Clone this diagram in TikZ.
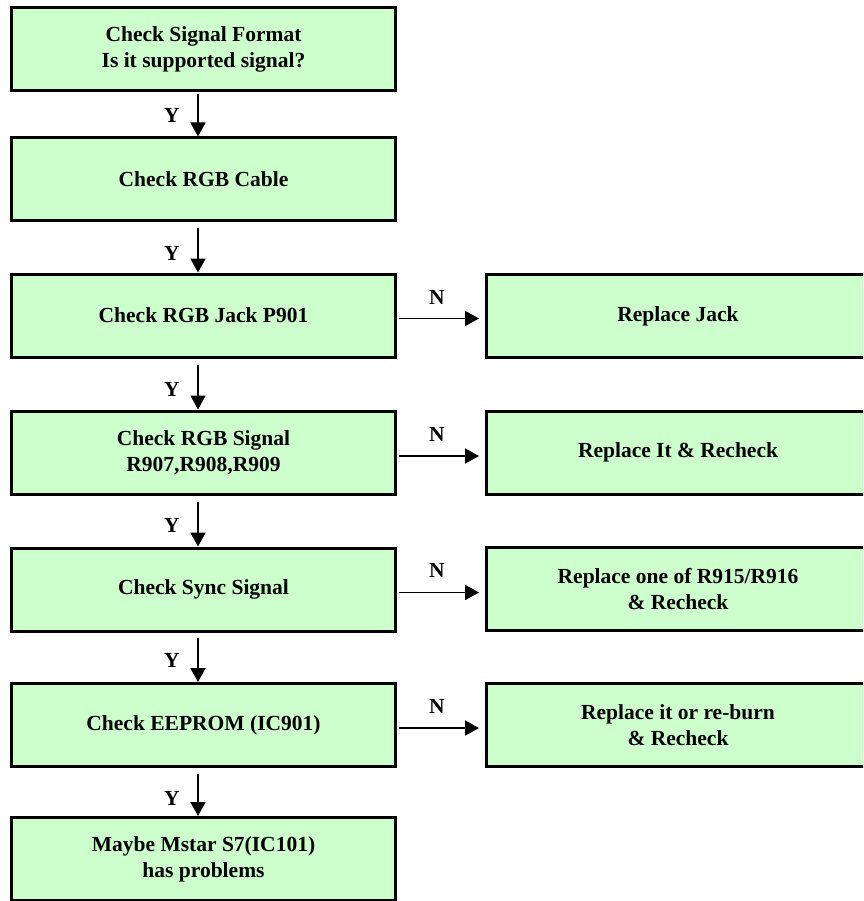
\documentclass[tikz,border=0pt]{standalone}
\usepackage{fontspec}
\setmainfont{Liberation Serif}
\usetikzlibrary{arrows.meta}
\definecolor{boxgreen}{HTML}{CCFFCC}
\begin{document}
\begin{tikzpicture}[x=1pt,y=-1pt,
  box/.style={draw=black, line width=3pt, fill=boxgreen, minimum height=83pt,
    align=center, font=\fontsize{21.5}{26}\selectfont\bfseries, inner sep=0pt},
  lbox/.style={box, minimum width=384pt},
  rbox/.style={box, minimum width=383pt},
  arr/.style={line width=1.8pt, -{Triangle[length=14pt,width=15pt]}},
  lab/.style={font=\fontsize{21.5}{26}\selectfont\bfseries, inner sep=0pt}]
\useasboundingbox (0,0) rectangle (863,901);
\clip (0,0) rectangle (863,901);
% left column
\node[lbox] (b1) at (203.5,49.5) {Check Signal Format\\Is it supported signal?};
\node[lbox] (b2) at (203.5,179.5) {Check RGB Cable};
\node[lbox] (b3) at (203.5,315.5) {Check RGB Jack P901};
\node[lbox] (b4) at (203.5,452.5) {Check RGB Signal\\R907,R908,R909};
\node[lbox] (b5) at (203.5,589.5) {Check Sync Signal};
\node[lbox] (b6) at (203.5,725) {Check EEPROM (IC901)};
\node[lbox] (b7) at (203.5,859) {Maybe Mstar S7(IC101)\\has problems};
% right column
\node[rbox] (r3) at (678,316) {Replace Jack};
\node[rbox] (r4) at (678,452.5) {Replace It \& Recheck};
\node[rbox] (r5) at (678,589) {Replace one of R915/R916\\\& Recheck};
\node[rbox] (r6) at (678,725) {Replace it or re-burn\\\& Recheck};
% vertical arrows
\draw[arr] ([xshift=-5.5pt,yshift=-2pt]b1.south) -- ([xshift=-5.5pt]b2.north);
\draw[arr] ([xshift=-5.5pt,yshift=-6pt]b2.south) -- ([xshift=-5.5pt]b3.north);
\draw[arr] ([xshift=-5.5pt,yshift=-6pt]b3.south) -- ([xshift=-5.5pt]b4.north);
\draw[arr] ([xshift=-5.5pt,yshift=-6pt]b4.south) -- ([xshift=-5.5pt]b5.north);
\draw[arr] ([xshift=-5.5pt,yshift=-5pt]b5.south) -- ([xshift=-5.5pt]b6.north);
\draw[arr] ([xshift=-5.5pt,yshift=-6pt]b6.south) -- ([xshift=-5.5pt]b7.north);
\node[lab] (y1) at (172,115) {Y};
\node[lab] (y2) at (172,253) {Y};
\node[lab] (y3) at (172,389) {Y};
\node[lab] (y4) at (172,525) {Y};
\node[lab] (y5) at (172,660) {Y};
\node[lab] (y6) at (172,798) {Y};
% horizontal arrows
\draw[arr] ([xshift=2pt,yshift=-3pt]b3.east) -- ([xshift=-6pt,yshift=-3pt]b3.east -| r3.west);
\draw[arr] ([xshift=2pt,yshift=-3.5pt]b4.east) -- ([xshift=-6pt,yshift=-3.5pt]b4.east -| r4.west);
\draw[arr] ([xshift=2pt,yshift=-3pt]b5.east) -- ([xshift=-6pt,yshift=-3pt]b5.east -| r5.west);
\draw[arr] ([xshift=2pt,yshift=-3pt]b6.east) -- ([xshift=-6pt,yshift=-3pt]b6.east -| r6.west);
\node[lab] (n3) at (437,297) {N};
\node[lab] (n4) at (437,434) {N};
\node[lab] (n5) at (437,570) {N};
\node[lab] (n6) at (437,706) {N};
\end{tikzpicture}
\end{document}
